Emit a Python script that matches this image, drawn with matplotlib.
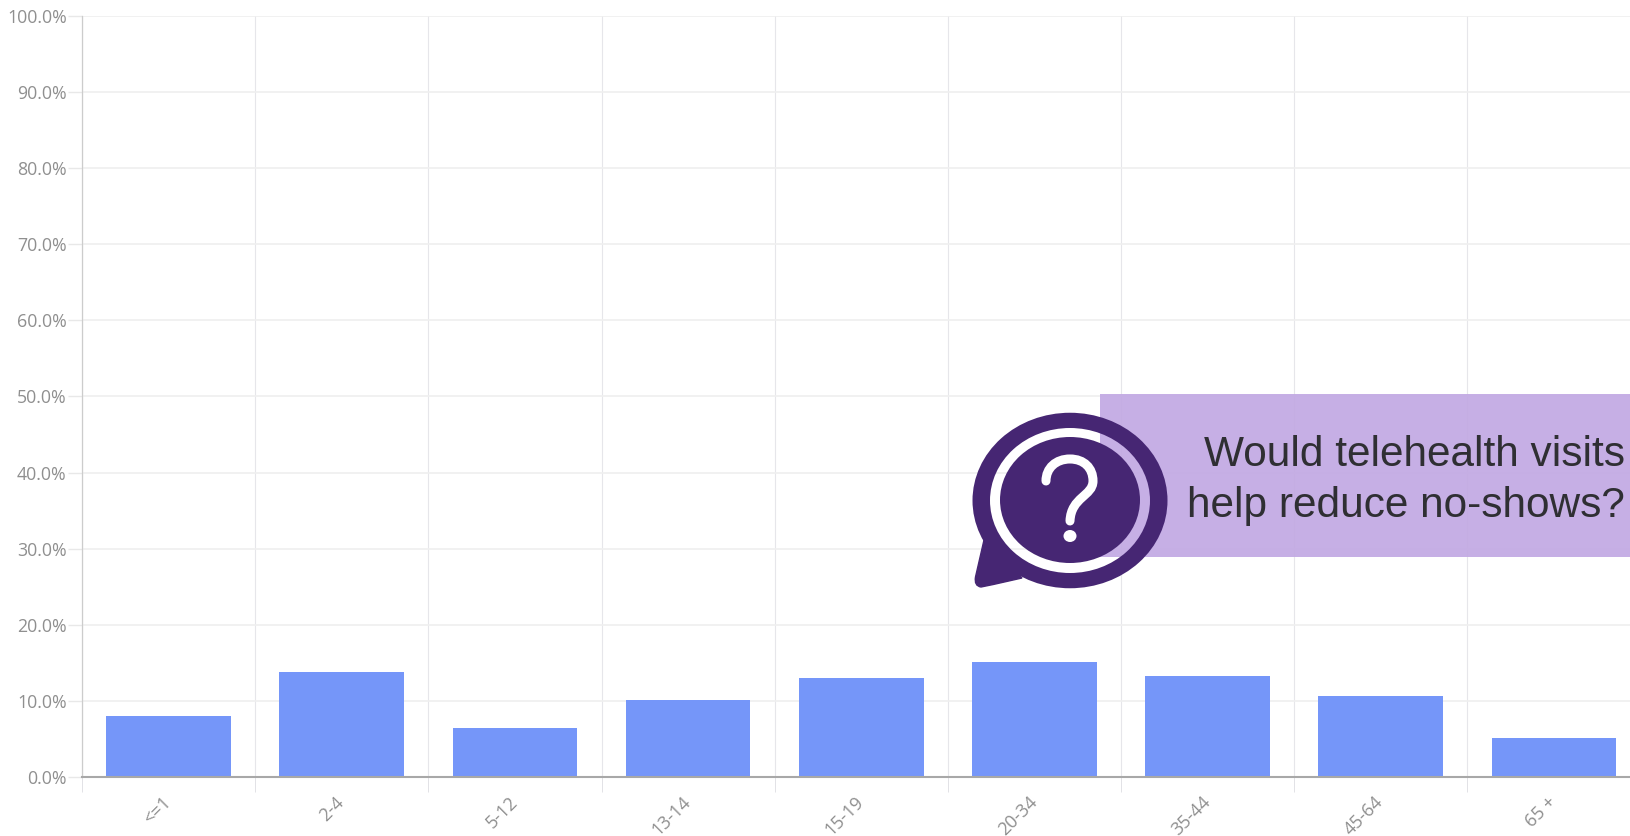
import matplotlib.pyplot as plt
from matplotlib.patches import Ellipse, PathPatch, Rectangle
from matplotlib.path import Path

age_groups = ["<=1", "2-4", "5-12", "13-14", "15-19", "20-34", "35-44", "45-64", "65 +"]
percent = [8.1, 13.8, 6.4, 10.1, 13.0, 15.1, 13.3, 10.6, 5.1]
y_ticks = list(range(0, 101, 10))

BAR_COLOR = "#7596f9"
PURPLE = "#462673"
TEXT_GREY = "#8f8f8f"

plt.rcParams["font.family"] = ["Open Sans", "DejaVu Sans"]

fig = plt.figure(figsize=(16.31, 8.36), dpi=100)
ax = fig.add_axes([82 / 1631, 58.8 / 836, 1 - 82 / 1631, 761.5 / 836])

positions = list(range(len(age_groups)))
ax.bar(positions, percent, width=0.72, color=BAR_COLOR, zorder=3)

ax.set_xlim(-0.5, 8.445)
ax.set_ylim(0, 100)

# gridlines sit between categories, labels on the categories
ax.set_xticks([p - 0.5 for p in positions])
ax.set_xticklabels([])
ax.set_xticks(positions, minor=True)
ax.set_xticklabels(age_groups, minor=True, rotation=45, ha="right", va="center",
                   rotation_mode="anchor", fontsize=13, color=TEXT_GREY)
ax.tick_params(axis="x", which="major", length=11, width=0.7, color="#e2e2e6")
ax.tick_params(axis="x", which="minor", length=0, pad=16)
ax.grid(axis="x", which="major", color="#e6e6ea", linewidth=0.8, zorder=0)

ax.set_yticks(y_ticks)
ax.set_yticklabels([f"{v:.1f}%" for v in y_ticks], fontsize=12.8, color=TEXT_GREY)
ax.tick_params(axis="y", length=10, width=1, color="#e8e8e8", pad=1)
ax.grid(axis="y", color="#efefef", linewidth=1.2, zorder=0)

for side in ["top", "right"]:
    ax.spines[side].set_visible(False)
ax.spines["left"].set_color("#cccccc")
ax.spines["left"].set_linewidth(0.9)
ax.spines["bottom"].set_color("#a8a8a8")
ax.spines["bottom"].set_linewidth(1.5)
ax.spines["bottom"].set_zorder(4)

# callout is drawn in figure pixels on a transparent overlay
over = fig.add_axes([0, 0, 1, 1], facecolor="none")
over.set_xlim(0, 1631)
over.set_ylim(836, 0)
over.axis("off")

over.add_patch(Rectangle((1100.5, 393.5), 531, 163, facecolor="#c2a9e3", alpha=0.93,
                         edgecolor="none", zorder=1))

line1 = "Would telehealth visits"
line2 = "help reduce no-shows?"
over.text(1625, 466, line1, ha="right", va="baseline", fontsize=30.5,
          family="Liberation Sans", color="#2f2f33", zorder=2)
over.text(1625, 517, line2, ha="right", va="baseline", fontsize=30.5,
          family="Liberation Sans", color="#2f2f33", zorder=2)


def ellipse_path(cx, cy, w, h, reverse=False):
    circle = Path.unit_circle()
    verts = circle.vertices[:-1] * [w / 2, h / 2] + [cx, cy]
    if reverse:
        verts = verts[::-1]
    return Path(list(verts) + [verts[0]], circle.codes)


# speech bubble: outer ring with a see-through gap, inner disc, tail
outer = ellipse_path(1070, 500.5, 195, 175.5)
gap = ellipse_path(1070, 500.5, 160, 145, reverse=True)
over.add_patch(PathPatch(Path.make_compound_path(outer, gap), facecolor=PURPLE,
                         edgecolor="none", zorder=3))
over.add_patch(Ellipse((1070, 500), 140, 126, facecolor=PURPLE, edgecolor="none", zorder=3))
tail = Path(
    [(984, 540), (975.5, 577), (974, 586), (981, 587), (985, 586.5), (1022, 578), (1000, 555), (984, 540)],
    [Path.MOVETO, Path.LINETO, Path.CURVE3, Path.CURVE3, Path.CURVE3, Path.LINETO, Path.LINETO, Path.CLOSEPOLY],
)
over.add_patch(PathPatch(tail, facecolor=PURPLE, edgecolor=PURPLE, linewidth=1, zorder=3))

# question mark
mark = Path(
    [(1046, 481), (1046, 468), (1056, 459), (1070, 459), (1084, 459), (1093, 468), (1093, 481),
     (1093, 496), (1071, 497), (1070, 521)],
    [Path.MOVETO] + [Path.CURVE4] * 9,
)
over.add_patch(PathPatch(mark, facecolor="none", edgecolor="white", linewidth=6.5,
                         capstyle="round", zorder=4))
over.add_patch(Ellipse((1070, 536), 13, 12, facecolor="white", edgecolor="none", zorder=4))

fig.savefig("out.png", dpi=100)
